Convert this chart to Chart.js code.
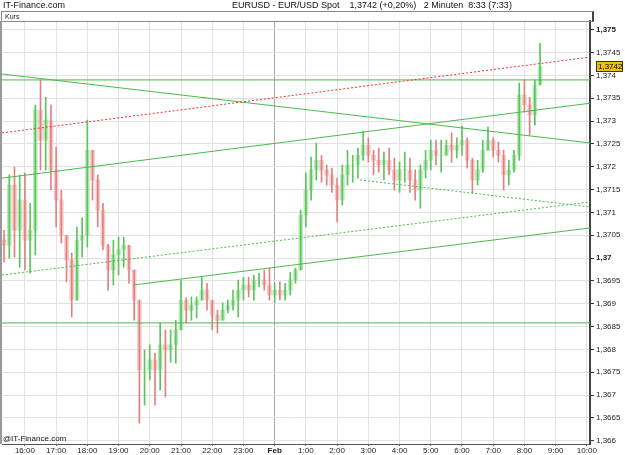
<!DOCTYPE html>
<html>
<head>
<meta charset="utf-8">
<script src="https://cdn.jsdelivr.net/npm/chart.js@4.4.1/dist/chart.umd.min.js"></script>
<style>
body{margin:0;background:#fff;font-family:"Liberation Sans",Arial,sans-serif;}
#wrap{position:relative;width:625px;height:455px;overflow:hidden;}
#chart{position:absolute;left:0;top:0;}
.t{position:absolute;font-size:9px;line-height:10px;color:#111;white-space:nowrap;}
#kurs{position:absolute;left:1px;top:11px;width:587px;height:9px;border:1px solid #888;border-right:2px solid #444;font-size:7px;line-height:9px;padding-left:3px;box-sizing:content-box;color:#222;}
#leftbar{position:absolute;left:0;top:21px;width:2px;height:423px;background:#999;}
</style>
</head>
<body>
<div id="wrap">
<canvas id="chart" width="625" height="455"></canvas>
<div class="t" style="left:3px;top:0px;">IT-Finance.com</div>
<div class="t" style="left:232px;top:0px;">EURUSD - EUR/USD Spot&nbsp;&nbsp;&nbsp; 1,3742 (+0,20%)&nbsp;&nbsp; 2 Minuten&nbsp; 8:33 (7:33)</div>
<div id="kurs">Kurs</div>
<div id="leftbar"></div>
<div class="t" style="left:3px;top:434px;font-size:8px;">@IT-Finance.com</div>
</div>
<script>
// 10 minute candles, EURUSD 2 minute chart
var times = ['15:20','15:30','15:40','15:50',
	'16:00','16:10','16:20','16:30','16:40','16:50',
	'17:00','17:10','17:20','17:30','17:40','17:50',
	'18:00','18:10','18:20','18:30','18:40','18:50',
	'19:00','19:10','19:20','19:30','19:40','19:50',
	'20:00','20:10','20:20','20:30','20:40','20:50',
	'21:00','21:10','21:20','21:30','21:40','21:50',
	'22:00','22:10','22:20','22:30','22:40','22:50',
	'23:00','23:10','23:20','23:30','23:40','23:50',
	'0:00','0:10','0:20','0:30','0:40','0:50',
	'1:00','1:10','1:20','1:30','1:40','1:50',
	'2:00','2:10','2:20','2:30','2:40','2:50',
	'3:00','3:10','3:20','3:30','3:40','3:50',
	'4:00','4:10','4:20','4:30','4:40','4:50',
	'5:00','5:10','5:20','5:30','5:40','5:50',
	'6:00','6:10','6:20','6:30','6:40','6:50',
	'7:00','7:10','7:20','7:30','7:40','7:50',
	'8:00','8:10','8:20','8:30'];

var highs = [1.37061,1.37182,1.37199,1.37182,
	1.37186,1.37120,1.37335,1.37390,1.37352,1.37335,
	1.37243,1.37149,1.37050,1.37011,1.37068,1.37088,
	1.37302,1.37236,1.37182,1.37120,1.37030,1.37039,
	1.37046,1.37046,1.37028,1.36974,1.36908,1.36799,
	1.36810,1.36792,1.36858,1.36843,1.36843,1.36864,
	1.36952,1.36913,1.36915,1.36915,1.36958,1.36945,
	1.36908,1.36886,1.36902,1.36908,1.36930,1.36952,
	1.36958,1.36958,1.36963,1.36967,1.36974,1.36978,
	1.36945,1.36948,1.36945,1.36969,1.36978,1.37105,
	1.37186,1.37221,1.37252,1.37225,1.37204,1.37197,
	1.37175,1.37204,1.37236,1.37225,1.37241,1.37278,
	1.37263,1.37236,1.37241,1.37232,1.37241,1.37219,
	1.37210,1.37232,1.37219,1.37193,1.37204,1.37236,
	1.37258,1.37258,1.37258,1.37258,1.37274,1.37263,
	1.37289,1.37263,1.37219,1.37214,1.37258,1.37287,
	1.37263,1.37254,1.37236,1.37214,1.37236,1.37383,
	1.37390,1.37352,1.37390,1.37470];

var lows = [1.36991,1.37000,1.37002,1.36980,
	1.36974,1.36967,1.37007,1.37193,1.37193,1.37149,
	1.37068,1.37033,1.36948,1.36871,1.36908,1.37002,
	1.37024,1.37127,1.37068,1.37018,1.36930,1.36941,
	1.36963,1.36980,1.36945,1.36864,1.36639,1.36678,
	1.36733,1.36678,1.36711,1.36696,1.36772,1.36770,
	1.36843,1.36858,1.36864,1.36869,1.36908,1.36886,
	1.36843,1.36836,1.36864,1.36880,1.36886,1.36871,
	1.36908,1.36915,1.36908,1.36937,1.36930,1.36908,
	1.36902,1.36908,1.36908,1.36919,1.36945,1.36974,
	1.37068,1.37127,1.37171,1.37166,1.37160,1.37144,
	1.37079,1.37116,1.37160,1.37166,1.37175,1.37214,
	1.37210,1.37182,1.37188,1.37171,1.37182,1.37149,
	1.37144,1.37166,1.37144,1.37127,1.37109,1.37175,
	1.37193,1.37204,1.37188,1.37225,1.37210,1.37219,
	1.37225,1.37197,1.37142,1.37160,1.37188,1.37236,
	1.37221,1.37210,1.37149,1.37160,1.37188,1.37214,
	1.37319,1.37269,1.37291,1.37379];

var closes = [1.37028,1.37160,1.37061,1.37127,
	1.37039,1.37061,1.37324,1.37258,1.37302,1.37193,
	1.37127,1.37050,1.36996,1.36908,1.37039,1.37050,
	1.37236,1.37171,1.37105,1.37028,1.36974,1.37007,
	1.37018,1.37028,1.36974,1.36908,1.36755,1.36755,
	1.36777,1.36755,1.36810,1.36799,1.36810,1.36843,
	1.36908,1.36886,1.36897,1.36908,1.36930,1.36908,
	1.36875,1.36864,1.36886,1.36897,1.36908,1.36930,
	1.36941,1.36930,1.36952,1.36952,1.36941,1.36919,
	1.36930,1.36919,1.36930,1.36952,1.36974,1.37094,
	1.37149,1.37193,1.37214,1.37193,1.37182,1.37160,
	1.37127,1.37182,1.37204,1.37204,1.37225,1.37247,
	1.37225,1.37214,1.37204,1.37214,1.37193,1.37171,
	1.37193,1.37193,1.37171,1.37149,1.37193,1.37214,
	1.37236,1.37225,1.37225,1.37247,1.37236,1.37247,
	1.37258,1.37214,1.37171,1.37193,1.37236,1.37258,
	1.37236,1.37225,1.37182,1.37193,1.37225,1.37357,
	1.37335,1.37313,1.37379,1.37420];
var firstOpen = 1.37040;

// trend lines drawn on the chart: [time, price] end points
var lineRedDotted = [['15:16',1.37274],['10:06',1.37440]];
var lineFlatTop   = [['15:16',1.37390],['10:06',1.37390]];
var lineFalling   = [['15:16',1.37403],['10:06',1.37252]];
var lineRising    = [['15:16',1.37175],['10:06',1.37339]];
var lineLower     = [['19:28',1.36941],['10:06',1.37066]];
var lineDottedLow = [['15:16',1.36963],['10:06',1.37123]];
var lineDottedMid = [['2:44',1.37171],['10:06',1.37112]];
var lineSupport   = [['15:16',1.36858],['10:06',1.36858]];

var xTickTimes  = ['16:00','17:00','18:00','19:00','20:00','21:00','22:00','23:00','0:00','1:00','2:00','3:00','4:00','5:00','6:00','7:00','8:00','9:00','10:00'];
var xTickLabels = ['16:00','17:00','18:00','19:00','20:00','21:00','22:00','23:00','Feb','1:00','2:00','3:00','4:00','5:00','6:00','7:00','8:00','9:00','10:00'];
var yTicks = [1.366,1.3665,1.367,1.3675,1.368,1.3685,1.369,1.3695,1.37,1.3705,1.371,1.3715,1.372,1.3725,1.373,1.3735,1.374,1.3745,1.375];
var lastPrice = 1.3742;

// minutes after 16:00 of the first day
function toMinutes(s){
	var p = s.split(':');
	var m = parseInt(p[0],10)*60 + parseInt(p[1],10) - 960;
	if (m < -300) m += 1440;
	return m;
}
function fmt(v){
	return (+v.toFixed(4)).toString().replace('.', ',');
}

var opens = [firstOpen].concat(closes.slice(0, closes.length-1));
var wickColors = [], bodyColors = [];
for (var i = 0; i < closes.length; i++) {
	var up = closes[i] >= opens[i];
	wickColors.push(up ? '#5cc45c' : '#e28080');
	bodyColors.push(up ? 'rgba(160,225,160,0.7)' : 'rgba(242,185,185,0.75)');
}
var wickData = times.map(function(t,i){ return {x: toMinutes(t), y: [lows[i], highs[i]]}; });
var bodyData = times.map(function(t,i){ return {x: toMinutes(t), y: [opens[i], closes[i]]}; });

function lineSet(pts, color, dash){
	return {
		type: 'line',
		data: pts.map(function(p){ return {x: toMinutes(p[0]), y: p[1]}; }),
		borderColor: color,
		borderWidth: 1,
		borderDash: dash || [],
		pointRadius: 0,
		fill: false,
		order: 1
	};
}

var priceBox = {
	id: 'priceBox',
	afterDraw: function(chart){
		var c = chart.ctx, y = Math.round(chart.scales.y.getPixelForValue(lastPrice));
		var x = chart.chartArea.right + 6;
		c.save();
		c.fillStyle = '#f2c200';
		c.fillRect(x, y - 5, 27, 11);
		c.strokeStyle = '#333';
		c.lineWidth = 1;
		c.strokeRect(x + 0.5, y - 4.5, 26, 10);
		c.fillStyle = '#000';
		c.font = '8px "Liberation Sans", Arial, sans-serif';
		c.textBaseline = 'middle';
		c.fillText(fmt(lastPrice), x + 2, y + 0.5);
		c.restore();
	}
};

var ctx = document.getElementById('chart').getContext('2d');
window.myChart = new Chart(ctx, {
	type: 'bar',
	data: {
		datasets: [
			lineSet(lineRedDotted, '#ee3030', [2,2]),
			lineSet(lineFlatTop, '#4cb84c'),
			lineSet(lineFalling, '#4cb84c'),
			lineSet(lineRising, '#4cb84c'),
			lineSet(lineLower, '#4cb84c'),
			lineSet(lineDottedLow, '#4cb84c', [2,2]),
			lineSet(lineDottedMid, '#4cb84c', [2,2]),
			lineSet(lineSupport, '#4cb84c'),
			{
				label: 'body',
				data: bodyData,
				backgroundColor: bodyColors,
				barThickness: 4,
				grouped: false,
				order: 3
			},
			{
				label: 'wick',
				data: wickData,
				backgroundColor: wickColors,
				barThickness: 1,
				grouped: false,
				order: 2
			}
		]
	},
	options: {
		responsive: false,
		animation: false,
		layout: { padding: { left: 2, top: 21, right: 0, bottom: 0 } },
		plugins: {
			legend: { display: false },
			tooltip: { enabled: false },
			title: { display: false }
		},
		scales: {
			x: {
				type: 'linear',
				min: toMinutes('15:16'),
				max: toMinutes('10:06'),
				offset: false,
				afterBuildTicks: function(scale){
					scale.ticks = xTickTimes.map(function(t){ return {value: toMinutes(t)}; });
				},
				afterFit: function(scale){ scale.height = 11; },
				grid: {
					offset: false,
					color: function(c){ return (c.tick && c.tick.value === 480) ? '#a8a8a8' : '#e2e2e2'; },
					tickLength: 2,
					tickColor: '#666'
				},
				border: { color: '#555', width: 1 },
				ticks: {
					padding: 0,
					maxRotation: 0,
					autoSkip: false,
					color: '#222',
					font: function(c){
						var bold = c.tick && c.tick.value === 480;
						return { size: 8, family: '"Liberation Sans", Arial, sans-serif', weight: bold ? 'bold' : 'normal' };
					},
					callback: function(v){
						var i = xTickTimes.map(toMinutes).indexOf(v);
						return i >= 0 ? xTickLabels[i] : '';
					}
				}
			},
			y: {
				position: 'right',
				min: 1.36593,
				max: 1.37519,
				afterBuildTicks: function(scale){
					scale.ticks = yTicks.map(function(v){ return {value: v}; });
				},
				afterFit: function(scale){ scale.width = 35; },
				grid: {
					color: '#e2e2e2',
					tickLength: 4,
					tickColor: '#333'
				},
				border: { color: '#444', width: 2 },
				ticks: {
					padding: 2,
					color: '#222',
					font: function(c){
						var v = c.tick ? c.tick.value : 0;
						var bold = Math.abs(v - 1.375) < 1e-7 || Math.abs(v - 1.37) < 1e-7;
						return { size: 8, family: '"Liberation Sans", Arial, sans-serif', weight: bold ? 'bold' : 'normal' };
					},
					callback: function(v){ return fmt(v); }
				}
			}
		}
	},
	plugins: [priceBox]
});
</script>
</body>
</html>
